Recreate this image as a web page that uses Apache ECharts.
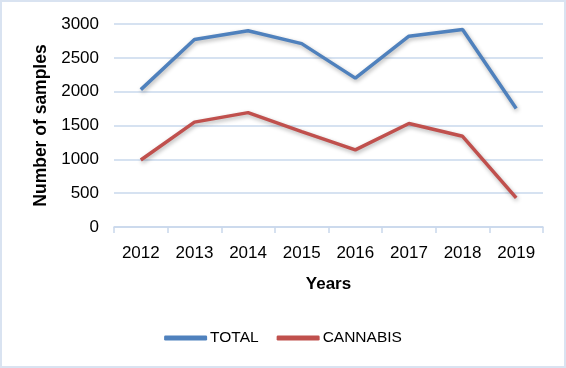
<!DOCTYPE html>
<html><head><meta charset="utf-8">
<script src="https://cdn.jsdelivr.net/npm/echarts@6/dist/echarts.min.js"></script>
<style>html,body{margin:0;padding:0;background:#fff}#c{width:566px;height:368px;box-sizing:border-box;border:2px solid #d9e3f1}</style>
</head><body><div id="c"></div>
<script>
const years = ['2012','2013','2014','2015','2016','2017','2018','2019'];
const total = [2030, 2770, 2900, 2710, 2200, 2820, 2920, 1750];
const cannabis = [990, 1550, 1690, 1410, 1140, 1530, 1340, 430];
const yTicks = [0, 500, 1000, 1500, 2000, 2500, 3000];
const FONT = '"Liberation Sans", Arial, sans-serif';
const chart = echarts.init(document.getElementById('c'));
const shadow = {shadowColor:'rgba(0,0,0,0.3)', shadowBlur:4, shadowOffsetX:1, shadowOffsetY:2};
chart.setOption({
  animation:false,
  textStyle:{fontFamily:FONT},
  grid:{left:112, right:21, top:22, bottom:139},
  legend:{
    bottom:15, left:'center', itemWidth:43, itemHeight:5, itemGap:18,
    textStyle:{fontSize:15.5, color:'#000', fontFamily:FONT, padding:[0,0,0,-2]},
    data:[{name:'TOTAL', icon:'roundRect'},{name:'CANNABIS', icon:'roundRect'}]
  },
  xAxis:{
    type:'category', data:years, boundaryGap:true,
    name:'Years', nameLocation:'middle', nameGap:49,
    nameTextStyle:{fontSize:17, fontWeight:'bold', color:'#000', fontFamily:FONT},
    axisLine:{lineStyle:{color:'#c9d8ec', width:1.5}},
    axisTick:{show:true, length:6, lineStyle:{color:'#c9d8ec', width:1.5}, alignWithLabel:false},
    axisLabel:{fontSize:17, color:'#000', margin:18, fontFamily:FONT}
  },
  yAxis:{
    type:'value', min:yTicks[0], max:yTicks[yTicks.length-1], interval:500,
    name:'Number of samples', nameLocation:'middle', nameGap:63, nameRotate:90,
    nameTextStyle:{fontSize:17.5, fontWeight:'bold', color:'#000', fontFamily:FONT},
    axisLine:{show:false}, axisTick:{show:false},
    axisLabel:{fontSize:17, color:'#000', margin:15, fontFamily:FONT, formatter: v => String(v)},
    splitLine:{lineStyle:{color:'#c9d8ec', width:1.5}}
  },
  series:[
    {name:'TOTAL', type:'line', data:total, symbol:'none', color:'#4f81bd',
     lineStyle:{width:3.5, color:'#4f81bd', ...shadow}},
    {name:'CANNABIS', type:'line', data:cannabis, symbol:'none', color:'#c0504d',
     lineStyle:{width:3.5, color:'#c0504d', ...shadow}}
  ]
});
</script></body></html>
